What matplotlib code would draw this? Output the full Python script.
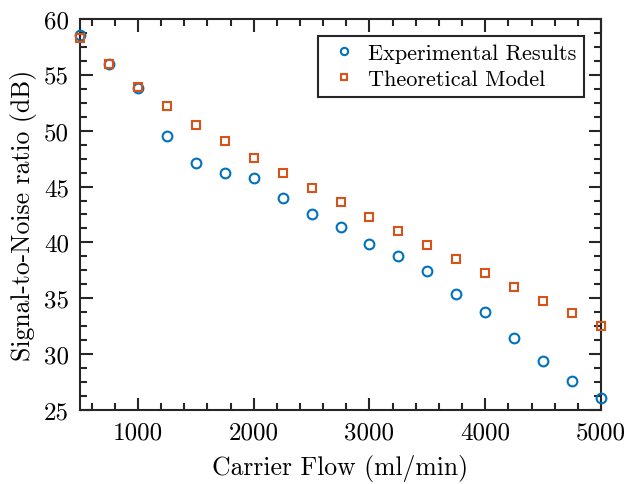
import matplotlib
import matplotlib.pyplot as plt
from matplotlib.ticker import MultipleLocator

matplotlib.use('Agg')

plt.rcParams['font.family'] = ['cmr10', 'DejaVu Serif']
plt.rcParams['axes.unicode_minus'] = False
plt.rcParams['mathtext.fontset'] = 'cm'

flow = [500, 750, 1000, 1250, 1500, 1750, 2000, 2250, 2500, 2750,
        3000, 3250, 3500, 3750, 4000, 4250, 4500, 4750, 5000]
snr_experimental = [58.6, 56.0, 53.8, 49.5, 47.1, 46.2, 45.8, 44.0, 42.5, 41.4,
                    39.9, 38.8, 37.4, 35.4, 33.8, 31.4, 29.4, 27.6, 26.1]
snr_theoretical = [58.3, 56.0, 53.9, 52.2, 50.5, 49.1, 47.6, 46.2, 44.9, 43.6,
                   42.3, 41.0, 39.8, 38.5, 37.3, 36.0, 34.8, 33.7, 32.5]

fig = plt.figure(figsize=(6.25, 4.85), dpi=100)
ax = fig.add_axes([0.128, 0.1526, 0.8336, 0.8062])

ax.plot(flow, snr_experimental, 'o', color='#0072BD', mfc='none', mew=1.5,
        markersize=7, label='Experimental Results', clip_on=False, zorder=3)
ax.plot(flow, snr_theoretical, 's', color='#D95319', mfc='none', mew=1.5,
        markersize=6, label='Theoretical Model', clip_on=False, zorder=3)

ax.set_xlim(500, 5000)
ax.set_ylim(25, 60)
ax.set_xticks([1000, 2000, 3000, 4000, 5000])
ax.set_yticks([25, 30, 35, 40, 45, 50, 55, 60])
ax.xaxis.set_minor_locator(MultipleLocator(200))
ax.yaxis.set_minor_locator(MultipleLocator(1.25))
ax.tick_params(which='both', direction='in', top=True, right=True,
               width=1.5, labelsize=18, color='#262626', pad=8)
ax.tick_params(which='major', length=9)
ax.tick_params(which='minor', length=5)
for s in ax.spines.values():
    s.set_linewidth(1.5)
    s.set_color('#262626')

ax.set_xlabel('Carrier Flow (ml/min)', fontsize=18.5, labelpad=8)
ax.set_ylabel('Signal-to-Noise ratio (dB)', fontsize=18.5, labelpad=5)

leg = ax.legend(loc='upper right', fontsize=16, fancybox=False, framealpha=1,
                edgecolor='#262626', borderaxespad=0.75, handletextpad=0.3,
                handlelength=1.6, borderpad=0.35, labelspacing=0.3,
                markerscale=0.75)
leg.get_frame().set_linewidth(1.5)

fig.savefig('out.png', dpi=100)
